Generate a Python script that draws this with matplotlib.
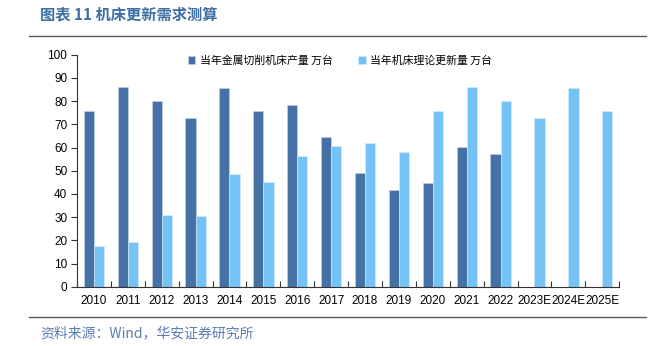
import matplotlib.pyplot as plt
import numpy as np

plt.rcParams['font.family'] = ['Liberation Sans', 'Noto Sans CJK SC']

years = ['2010', '2011', '2012', '2013', '2014', '2015', '2016', '2017',
         '2018', '2019', '2020', '2021', '2022', '2023E', '2024E', '2025E']
# 当年金属切削机床产量（万台），2023E 以后无数据
output = [75.6, 86.1, 79.9, 72.7, 85.8, 75.6, 78.4, 64.4,
          49.0, 41.7, 44.7, 60.2, 57.2]
# 当年机床理论更新量（万台）
renewal = [17.7, 19.3, 30.9, 30.6, 48.7, 45.1, 56.3, 60.6,
           61.8, 58.2, 75.6, 86.1, 79.9, 72.6, 85.8, 75.6]

dark = '#4571a6'
light = '#75c3f4'
cjk = ['Noto Sans CJK SC', 'DejaVu Sans']

fig = plt.figure(figsize=(6.58, 3.46), dpi=100)
ax = fig.add_axes([0.117, 0.171, 0.824, 0.671])

x = np.arange(len(years))
w = 0.3
ax.bar(x[:len(output)] - w / 2, output, w, color=dark, edgecolor='#c9d6e6',
       linewidth=0.4, label='当年金属切削机床产量 万台')
ax.bar(x + w / 2, renewal, w, color=light, edgecolor='#d8eefc',
       linewidth=0.4, label='当年机床理论更新量 万台')

ax.set_xlim(-0.5, len(years) - 0.5)
ax.set_ylim(0, 100)
ax.set_yticks(range(0, 101, 10))
ax.set_xticks(x)
ax.set_xticklabels(years)
ax.set_xticks(np.arange(-0.5, len(years), 1), minor=True)
ax.tick_params(axis='x', which='major', length=0, pad=6, labelsize=8.5)
ax.tick_params(axis='x', which='minor', length=4, width=0.8, direction='in',
               color='#333333')
ax.tick_params(axis='y', length=4, width=0.8, labelsize=8.5, pad=3,
               color='#333333')
for s in ['top', 'right']:
    ax.spines[s].set_visible(False)
for s in ['left', 'bottom']:
    ax.spines[s].set_color('#333333')
    ax.spines[s].set_linewidth(0.8)

ax.legend(loc='upper center', bbox_to_anchor=(0.485, 1.04), ncol=2,
          frameon=False, prop={'family': cjk, 'size': 7.8},
          handlelength=0.7, handleheight=0.7, handletextpad=0.4,
          columnspacing=2.4)

# 标题、分隔线与资料来源
fig.text(0.061, 0.957, '图表 11 机床更新需求测算', fontsize=11,
         fontweight='bold', color='#3f6ea5', va='center', family=cjk)
fig.add_artist(plt.Line2D([0.044, 0.982], [0.897, 0.897], color='#5a5a5a',
                          linewidth=1.0))
fig.add_artist(plt.Line2D([0.044, 0.982], [0.085, 0.085], color='#5a5a5a',
                          linewidth=1.0))
fig.text(0.061, 0.038, '资料来源：Wind，华安证券研究所', fontsize=10,
         color='#5a7db0', va='center', family=cjk)

fig.savefig('out.png', dpi=100)
